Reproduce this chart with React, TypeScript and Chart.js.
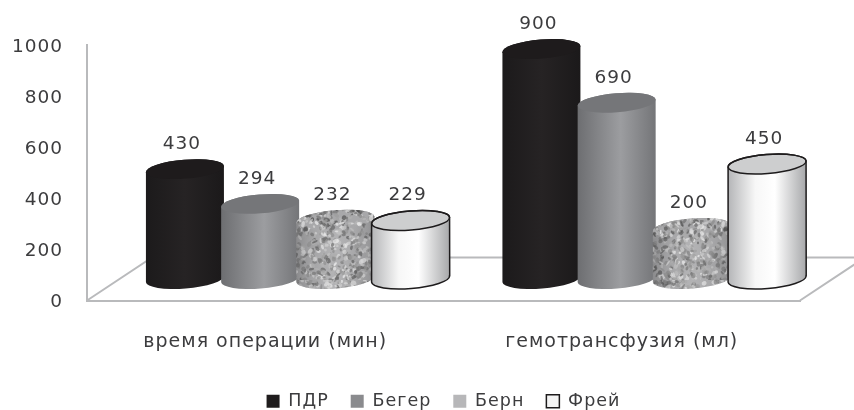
import React, { useEffect, useRef } from "react";
import { Chart, BarController, BarElement, registerables } from "chart.js";

const categories = ["время операции (мин)", "гемотрансфузия (мл)"];
const seriesNames = ["ПДР", "Бегер", "Берн", "Фрей"];
const pdr = [430, 900];
const beger = [294, 690];
const bern = [232, 200];
const frey = [229, 450];
const yTicks = [0, 200, 400, 600, 800, 1000];

const TEXT = "#3c3c3e";
const AXIS = "#b9babc";
const FONT = '"DejaVu Sans", sans-serif';
const DEPTH_X = 65;
const DEPTH_Y = 43;
const CAP_RY = 9.5;
const TILT = -0.08;

function speckle(ctx: CanvasRenderingContext2D) {
  const c = document.createElement("canvas");
  c.width = 140;
  c.height = 140;
  const p = c.getContext("2d")!;
  p.fillStyle = "#a8a8aa";
  p.fillRect(0, 0, 140, 140);
  let s = 12345;
  const next = () => {
    s = (s * 1103515245 + 12345) & 0x7fffffff;
    return s / 0x7fffffff;
  };
  for (let i = 0; i < 1900; i++) {
    const g = Math.round(75 + next() * 165);
    p.fillStyle = `rgba(${g},${g},${g},0.75)`;
    p.beginPath();
    p.ellipse(next() * 140, next() * 140, 1 + next() * 2.2, 0.8 + next() * 1.6, next() * 3, 0, 7);
    p.fill();
  }
  return ctx.createPattern(c, "repeat")!;
}

type Look = { stops: [number, string][]; cap: string | null; stroke: string | null; pattern?: boolean };
const looks: Look[] = [
  { stops: [[0, "#1c1a1b"], [0.5, "#262324"], [1, "#1b191a"]], cap: "#1e1b1c", stroke: null },
  { stops: [[0, "#6d6e71"], [0.55, "#9c9da0"], [1, "#747578"]], cap: "#757679", stroke: null },
  { stops: [[0, "rgba(70,70,72,.30)"], [0.5, "rgba(255,255,255,.12)"], [1, "rgba(70,70,72,.25)"]], cap: null, stroke: null, pattern: true },
  { stops: [[0, "#b4b5b7"], [0.35, "#f7f7f7"], [0.6, "#ffffff"], [1, "#a7a8aa"]], cap: "#cdcecf", stroke: "#1d1b1c" },
];

class CylinderBar extends BarElement {
  static id = "cylinderBar";
  static defaults = BarElement.defaults;
  draw(ctx: CanvasRenderingContext2D) {
    const { x, y, base, width } = (this as any).getProps(["x", "y", "base", "width"], true);
    const look = looks[(this as any).lookIndex ?? 0];
    const cx = x + DEPTH_X / 2;
    const top = y - DEPTH_Y / 2;
    const bottom = base - DEPTH_Y / 2;
    const rx = width / 2;
    const dy = rx * Math.sin(TILT);
    ctx.save();
    const outline = () => {
      ctx.beginPath();
      ctx.ellipse(cx, top, rx, CAP_RY, TILT, Math.PI, 0);
      ctx.lineTo(cx + rx, bottom + dy);
      ctx.ellipse(cx, bottom, rx, CAP_RY, TILT, 0, Math.PI);
      ctx.closePath();
    };
    const g = ctx.createLinearGradient(cx - rx, 0, cx + rx, 0);
    look.stops.forEach(([o, col]) => g.addColorStop(o, col));
    if (look.pattern) {
      outline();
      ctx.fillStyle = speckle(ctx);
      ctx.fill();
    }
    outline();
    ctx.fillStyle = g;
    ctx.fill();
    ctx.beginPath();
    ctx.ellipse(cx, top, rx, CAP_RY, TILT, 0, Math.PI * 2);
    ctx.fillStyle = look.cap ?? speckle(ctx);
    ctx.fill();
    if (look.stroke) {
      ctx.strokeStyle = look.stroke;
      ctx.lineWidth = 1.5;
      outline();
      ctx.stroke();
      ctx.beginPath();
      ctx.ellipse(cx, top, rx, CAP_RY, TILT, 0, Math.PI * 2);
      ctx.stroke();
    }
    ctx.restore();
  }
}

class CylinderController extends BarController {
  static id = "cylinder";
  static defaults = { ...BarController.defaults, dataElementType: "cylinderBar" };
  static overrides = BarController.overrides;
  updateElements(rects: any[], start: number, count: number, mode: any) {
    super.updateElements(rects, start, count, mode);
    for (let i = start; i < start + count; i++) rects[i].lookIndex = (this as any).index;
  }
  // Chart.js paints datasets last-to-first; the cylinders overlap first-to-last.
  draw() {
    const self = this as any;
    if (self.index !== 0) return;
    const chart = self.chart;
    chart.data.datasets.forEach((_: any, i: number) => {
      chart.getDatasetMeta(i).data.forEach((el: any) => el.draw(chart.ctx));
    });
  }
}

Chart.register(...registerables, CylinderBar, CylinderController as any);

const spacingPlugin = {
  id: "spacing",
  beforeUpdate(chart: any) { chart.ctx.letterSpacing = "1px"; },
  beforeDraw(chart: any) { chart.ctx.letterSpacing = "1px"; },
};

const floorPlugin = {
  id: "floor",
  beforeDatasetsDraw(chart: any) {
    const { ctx, scales } = chart;
    const l = scales.x.left;
    const r = scales.x.right;
    const b = scales.y.getPixelForValue(0);
    ctx.save();
    ctx.strokeStyle = AXIS;
    ctx.lineWidth = 2;
    ctx.beginPath();
    ctx.moveTo(l, b);
    ctx.lineTo(l + DEPTH_X, b - DEPTH_Y);
    ctx.lineTo(r + DEPTH_X, b - DEPTH_Y);
    ctx.lineTo(r, b);
    ctx.stroke();
    ctx.restore();
  },
};

const valueLabels = {
  id: "valueLabels",
  afterDatasetsDraw(chart: any) {
    const { ctx } = chart;
    ctx.save();
    ctx.fillStyle = TEXT;
    ctx.font = `18.5px ${FONT}`;
    ctx.textAlign = "center";
    ctx.textBaseline = "middle";
    chart.data.datasets.forEach((ds: any, i: number) => {
      chart.getDatasetMeta(i).data.forEach((el: any, j: number) => {
        ctx.fillText(String(ds.data[j]), el.x + DEPTH_X / 2 - 3, el.y - DEPTH_Y / 2 - 25);
      });
    });
    ctx.restore();
  },
};

export default function App() {
  const ref = useRef<HTMLCanvasElement>(null);
  useEffect(() => {
    const ctx = ref.current!.getContext("2d")!;
    const legendFills = ["#1f1c1d", "#8a8b8e", "#b7b7b9", "#f4f4f4"];
    const values = [pdr, beger, bern, frey];
    const chart = new Chart(ctx, {
      type: "cylinder" as any,
      data: {
        labels: categories,
        datasets: seriesNames.map((label, i) => ({
          label,
          data: values[i],
          clip: false as any,
          categoryPercentage: 0.844,
          barPercentage: 1.04,
          backgroundColor: legendFills[i] as any,
          borderColor: "#1d1b1c",
        })),
      },
      plugins: [spacingPlugin, floorPlugin, valueLabels],
      options: {
        animation: false,
        responsive: false,
        events: [],
        layout: { padding: { top: 45, right: 54, left: 0, bottom: -10 } },
        plugins: {
          tooltip: { enabled: false },
          title: { display: false },
          legend: {
            position: "bottom",
            fullSize: false,
            labels: {
              boxWidth: 13,
              boxHeight: 13,
              padding: 22,
              color: TEXT,
              font: { family: FONT, size: 17.5 },
              generateLabels: (c: any) =>
                c.data.datasets.map((d: any, i: number) => ({
                  text: d.label,
                  fillStyle: legendFills[i],
                  strokeStyle: i === 3 ? "#1d1b1c" : "rgba(0,0,0,0)",
                  lineWidth: i === 3 ? 1.5 : 0,
                  fontColor: TEXT,
                  hidden: false,
                  datasetIndex: i,
                })),
            },
          },
        },
        scales: {
          x: {
            type: "category",
            offset: true,
            grid: { display: false },
            border: { display: true, color: AXIS, width: 2 },
            ticks: { color: TEXT, font: { family: FONT, size: 19 }, padding: 22, maxRotation: 0 },
            afterFit: (s: any) => { s.height = 70; },
          },
          y: {
            type: "linear",
            min: 0,
            max: 1000,
            grid: { display: false },
            border: { display: true, color: AXIS, width: 2 },
            afterBuildTicks: (s: any) => { s.ticks = yTicks.map((value) => ({ value })); },
            ticks: {
              color: TEXT,
              font: { family: FONT, size: 18.5 },
              padding: 16,
              labelOffset: 2,
              callback: (v: any) => String(v),
            },
            afterFit: (s: any) => { s.width = 87; },
          },
        },
      } as any,
    });
    return () => chart.destroy();
  }, []);
  return (
    <div style={{ position: "fixed", left: 0, top: 0, width: 854, height: 410, background: "#fff" }}>
      <canvas ref={ref} width={854} height={410} style={{ display: "block" }} />
    </div>
  );
}
